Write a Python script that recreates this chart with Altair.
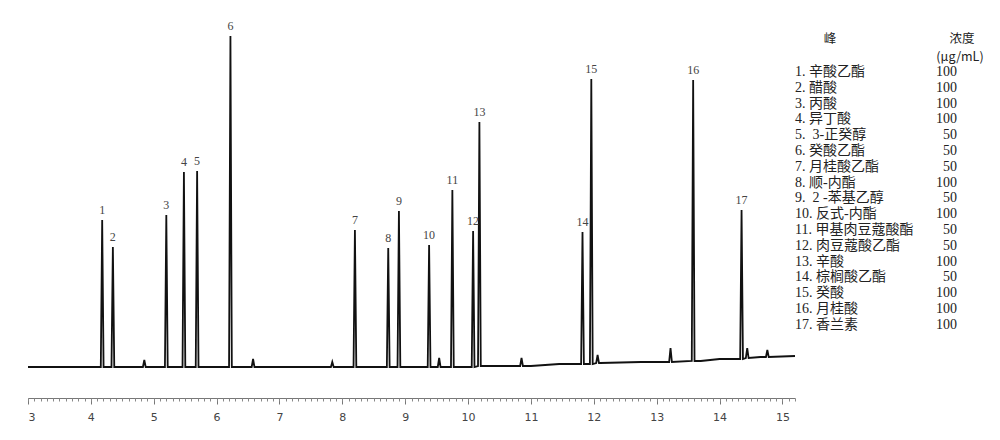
import altair as alt
import numpy as np
import pandas as pd

# ---- labelled peaks (retention time in min, apex height, local baseline) ----
peak_no = [str(i) for i in range(1, 18)]
peak_rt = [4.18, 4.35, 5.20, 5.48, 5.69, 6.22, 8.20, 8.73, 8.90, 9.38, 9.75,
           10.08, 10.18, 11.82, 11.96, 13.58, 14.35]
peak_top = [178, 151, 183, 226, 227, 362, 168, 150, 187, 153, 208, 167, 276,
            166, 319, 318, 188]
peak_base = [31, 31, 31, 31, 31, 31, 31, 31, 31, 31, 31, 31, 32, 34, 34, 37, 39]

# ---- small unlabelled peaks ----
minor_rt = [4.85, 6.58, 7.84, 9.54, 10.85, 12.06, 13.22, 14.44, 14.76]
minor_top = [38, 39, 36, 40, 40, 43, 50, 50, 48]
minor_base = [31, 31, 31, 31, 32, 35, 36, 40, 41]

# ---- baseline drift ----
base_rt = [3.0, 11.0, 11.45, 12.1, 12.75, 13.7, 14.0, 14.65, 15.2]
base_level = [31, 32, 34, 35, 36, 37, 39, 41, 42]

# ---- legend table ----
legend_names = ["1. 辛酸乙酯", "2. 醋酸", "3. 丙酸", "4. 异丁酸",
                "5.\u00a0\u00a03-正癸醇", "6. 癸酸乙酯", "7. 月桂酸乙酯",
                "8. 顺-内酯", "9.\u00a0\u00a02\u00a0-苯基乙醇", "10. 反式-内酯",
                "11. 甲基肉豆蔻酸酯", "12. 肉豆蔻酸乙酯", "13. 辛酸",
                "14. 棕榈酸乙酯", "15. 癸酸", "16. 月桂酸", "17. 香兰素"]
legend_conc = ["100", "100", "100", "100", "50", "50", "50", "100", "50",
               "100", "50", "50", "100", "50", "100", "100", "100"]

major_ticks = list(range(3, 16))

HW = 0.022  # half width of a spike
pts = [(r, v) for r, v in zip(base_rt, base_level)]
for r, t, b in zip(peak_rt + minor_rt, peak_top + minor_top, peak_base + minor_base):
    pts += [(r - HW, b), (r, t), (r + HW, b)]
trace = pd.DataFrame(pts, columns=["rt", "signal"]).sort_values("rt")

peaks = pd.DataFrame({"no": peak_no, "rt": peak_rt, "top": peak_top})
legend = pd.DataFrame({"name": legend_names, "conc": legend_conc,
                       "row": list(range(len(legend_names)))})

xscale = alt.Scale(domain=[3, 15.2], nice=False, zero=False)
yscale = alt.Scale(domain=[0, 370], nice=False, zero=True)

line = alt.Chart(trace).mark_line(color="#111", strokeWidth=1.8).encode(
    x=alt.X("rt:Q", scale=xscale, title=None,
            axis=alt.Axis(values=major_ticks, format="d", tickSize=6,
                          tickColor="#777", domainColor="#777", labelColor="#444",
                          labelFont="DejaVu Sans", labelFontSize=11, labelPadding=7,
                          grid=False, orient="bottom")),
    y=alt.Y("signal:Q", scale=yscale, axis=None),
)

labels = alt.Chart(peaks).mark_text(
    baseline="bottom", dy=-3, font="Liberation Serif", fontSize=12, color="#444"
).encode(
    x=alt.X("rt:Q", scale=xscale, title=None,
            axis=alt.Axis(values=list(np.round(np.arange(3, 15.21, 0.1), 2)),
                          labels=False, tickSize=3, tickColor="#888",
                          domain=False, grid=False, orient="bottom")),
    y=alt.Y("top:Q", scale=yscale, axis=None),
    text="no:N",
)

rowscale = alt.Scale(domain=[0, 16], range=[44, 44 + 16 * 15.8])
leg_font = "Liberation Serif, Noto Sans CJK SC"
leg_names = alt.Chart(legend).mark_text(
    align="left", baseline="middle", font=leg_font, fontSize=14, color="#222"
).encode(x=alt.value(767), y=alt.Y("row:Q", scale=rowscale, axis=None), text="name:N")
leg_conc = alt.Chart(legend).mark_text(
    align="right", baseline="middle", font=leg_font, fontSize=14, color="#222"
).encode(x=alt.value(929), y=alt.Y("row:Q", scale=rowscale, axis=None), text="conc:N")

hdr = pd.DataFrame({"t": ["峰", "浓度", "(μg/mL)"], "hx": [802, 934, 932], "hy": [11, 11, 29]})
header = alt.Chart(hdr).mark_text(
    align="center", baseline="middle", font="Noto Sans CJK SC", fontSize=12.5, color="#222"
).encode(x=alt.X("hx:Q", scale=None), y=alt.Y("hy:Q", scale=None), text="t:N")

chart = alt.layer(line, labels, leg_names, leg_conc, header).resolve_scale(
    y="independent"
).resolve_axis(x="independent").properties(
    width=767, height=370,
    padding={"left": 20, "top": 20, "right": 190, "bottom": 30},
    autosize=alt.AutoSizeParams(type="none"),
    background="white",
).configure_view(stroke=None)

chart.save("out.html", embed_options={"renderer": "svg", "actions": False})
